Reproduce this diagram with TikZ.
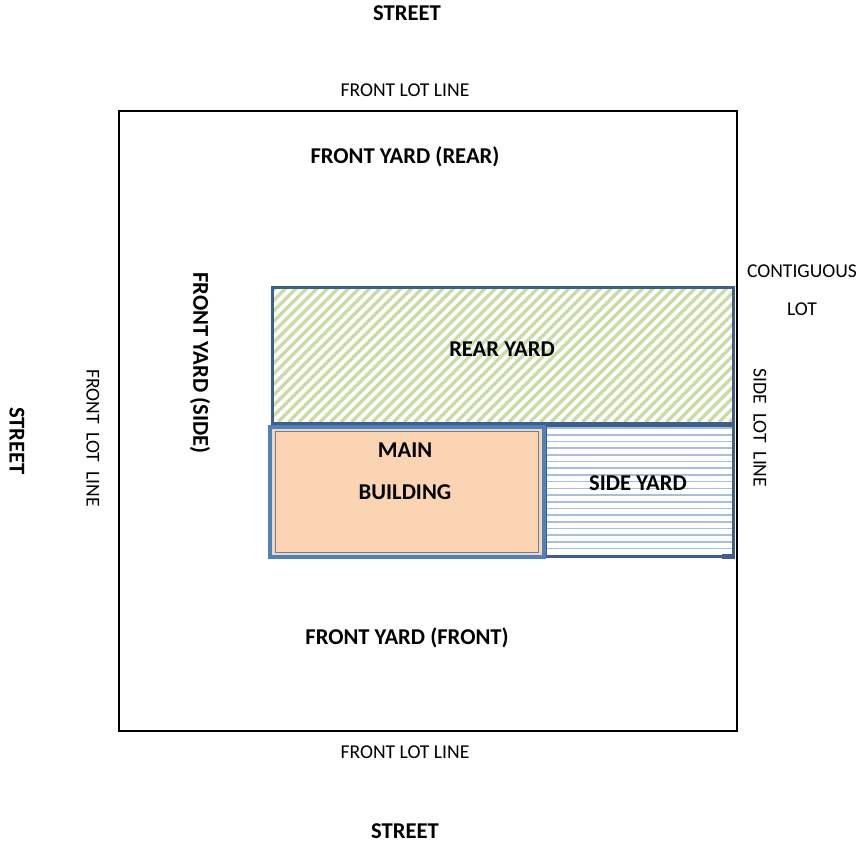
\documentclass[tikz,border=0pt]{standalone}
\usepackage{fontspec}
\setmainfont{Carlito}
\definecolor{lotblue}{HTML}{3E5F8C}
\definecolor{bldblue}{HTML}{4F81BD}
\definecolor{peach}{HTML}{FBD4B4}
\definecolor{hgreen}{HTML}{C9DCA6}
\definecolor{hblue}{HTML}{A7BEDD}
\begin{document}
\begin{tikzpicture}[x=1pt,y=-1pt,
  lbl/.style={font=\bfseries\fontsize{22.6}{26}\selectfont, inner sep=0pt},
  small/.style={font=\fontsize{19.6}{23}\selectfont, inner sep=0pt},
  yardbox/.style={draw=lotblue, line width=3pt}]
\useasboundingbox (0,0) rectangle (862,845);
% lot
\draw[line width=2.8pt] (119,111) rectangle (737,731);
% rear yard hatch
\begin{scope}
\clip (271,286) rectangle (732,422);
\foreach \i in {0,...,60} {
  \draw[hgreen, line width=3.4pt] (271+\i*10.5-140,422) -- ++(140,-140);
}
\end{scope}
\node[yardbox, minimum width=461pt, minimum height=136pt, anchor=north west] (rear) at (271,286) {};
% side yard hatch
\begin{scope}
\clip (544,424) rectangle (732,555);
\foreach \i in {0,...,20} {
  \draw[hblue, line width=1.6pt] (544,428+\i*6.7) -- (732,428+\i*6.7);
}
\end{scope}
\node[yardbox, minimum width=188pt, minimum height=131pt, anchor=north west] (side) at (544,424) {};
\fill[lotblue] (722,554) rectangle (735,559);
% main building
\node[draw=bldblue, line width=4pt, fill=peach, minimum width=274pt, minimum height=130pt, anchor=north west] (main) at (268,425) {};
\node[draw=bldblue!70!gray, line width=1pt, minimum width=263pt, minimum height=121pt] (maininner) at (main.center) {};
% labels
\node[lbl] (st1) at (407,13) {STREET};
\node[small] (fl1) at (405,90) {FRONT LOT LINE};
\node[lbl] (fyr) at (405,157) {FRONT YARD (REAR)};
\node[lbl, rotate=-90] (fys) at (200,363) {FRONT YARD (SIDE)};
\node[small, rotate=-90] (fl2) at (93,438) {FRONT~~LOT~~LINE};
\node[lbl, rotate=-90] (st2) at (17,441) {STREET};
\node[small] (cont) at (802,271) {CONTIGUOUS};
\node[small] (lot) at (802,309) {LOT};
\node[small, rotate=-90] (sll) at (760,428) {SIDE~~LOT~~LINE};
\node[lbl] (ry) at (502,349) {REAR YARD};
\node[lbl] (mn) at (405,450) {MAIN};
\node[lbl] (bd) at (405,492) {BUILDING};
\node[lbl] (sy) at (638,483) {SIDE YARD};
\node[lbl] (fyf) at (407,638) {FRONT YARD (FRONT)};
\node[small] (fl3) at (405,752) {FRONT LOT LINE};
\node[lbl] (st3) at (405,831) {STREET};
\end{tikzpicture}
\end{document}
